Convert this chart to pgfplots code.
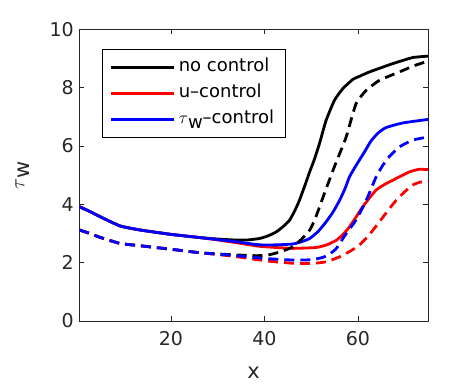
\documentclass[border=0pt]{standalone}
\usepackage{pgfplots}
\pgfplotsset{compat=1.18}
\usepackage{fontspec}
\setmainfont{DejaVu Sans}
\definecolor{axgray}{rgb}{0.15,0.15,0.15}

\begin{document}
\begin{tikzpicture}
  \begin{axis}[
    scale only axis,
    width=348.7bp, height=291.7bp,
    xmin=0.4, xmax=75, ymin=0, ymax=10,
    xtick={20,40,60}, ytick={0,2,4,6,8,10},
    tick align=inside,
    major tick length=5bp,
    axis line style={axgray, line width=0.6pt},
    every tick/.style={axgray, line width=0.6pt},
    tick label style={font=\fontsize{19bp}{22bp}\selectfont, text=axgray},
    xticklabel style={yshift=-7bp},
    yticklabel style={xshift=-2bp},
    /pgf/number format/assume math mode=true,
    xlabel={x},
    ylabel={$\tau$\raisebox{-0.45ex}{w}},
    xlabel style={at={(axis description cs:0.5,-0.1766)}, anchor=center},
    ylabel style={at={(axis description cs:-0.163,0.5)}, anchor=center},
    label style={font=\fontsize{21bp}{24bp}\selectfont, text=axgray},
    legend style={at={(0.0642,0.9314)}, anchor=north west, draw=black,
      line width=0.6pt, font=\fontsize{18bp}{21bp}\selectfont,
      inner xsep=8bp, inner ysep=5bp, row sep=0bp,
      nodes={text height=14bp, text depth=6bp, inner xsep=3bp, inner ysep=3bp}},
    legend cell align=left,
    legend image code/.code={\draw[#1, line width=2.8bp, solid] (0bp,0bp) -- (63bp,0bp);},
    every axis plot/.append style={line width=2.8bp, smooth, tension=0.3},
  ]
    % solid: no control
    \addplot[black] coordinates {
      (0.4,3.92) (2.7,3.75) (4.8,3.58) (9.1,3.26) (13.4,3.12) (20,2.97)
      (26.2,2.86) (30,2.81) (33.3,2.78) (36.5,2.78) (39,2.83) (40.8,2.92)
      (42.6,3.06) (44.1,3.25) (45.4,3.46) (46.5,3.78) (47.5,4.14) (48.6,4.62)
      (49.7,5.12) (50.6,5.50) (51.8,6.09) (53.2,6.88) (55.0,7.57) (56.8,7.97)
      (58.9,8.28) (60.5,8.40) (62.5,8.54) (67.4,8.82) (71.7,9.03) (75,9.08)};
    \addlegendentry{no control}
    % solid: u-control
    \addplot[red] coordinates {
      (0.4,3.92) (2.7,3.75) (4.8,3.58) (9.1,3.26) (13.4,3.12) (20,2.97)
      (26.2,2.86) (30,2.78) (33.3,2.70) (36.5,2.62) (39,2.56) (42.5,2.52)
      (46.1,2.49) (51.1,2.52) (53.5,2.62) (55.4,2.77) (56.9,2.98) (58.2,3.23)
      (59.6,3.56) (61.0,3.91) (62.5,4.22) (63.9,4.49) (65.7,4.68) (67.5,4.83)
      (71.0,5.11) (73.1,5.2) (75,5.19)};
    \addlegendentry{u--control}
    % solid: tau_w-control
    \addplot[blue] coordinates {
      (0.4,3.92) (2.7,3.75) (4.8,3.58) (9.1,3.26) (13.4,3.12) (20,2.97)
      (26.2,2.86) (30,2.79) (33.3,2.73) (36.5,2.66) (39,2.61) (42.5,2.61)
      (46.1,2.64) (48.0,2.72) (49.7,2.83) (51.5,3.07) (53.2,3.40) (54.7,3.74)
      (56.1,4.14) (57.2,4.52) (58.2,4.94) (59.3,5.25) (60.3,5.51) (61.5,5.82)
      (62.8,6.17) (64.3,6.44) (66.0,6.63) (69.6,6.79) (75,6.91)};
    \addlegendentry{$\tau$\raisebox{-0.45ex}{w}--control}
    % dashed: no control
    \addplot[black, dash pattern=on 10bp off 6bp, forget plot] coordinates {
      (0.4,3.12) (2.7,3.0) (4.8,2.87) (9.1,2.66) (13.4,2.58) (20,2.46)
      (26.2,2.34) (33.3,2.27) (38,2.24) (40.4,2.25) (42.5,2.33) (44.2,2.42)
      (45.8,2.52) (47.8,2.78) (49.7,3.12) (50.8,3.48) (51.8,3.91) (52.8,4.36)
      (53.9,4.83) (55.0,5.30) (56.1,5.74) (57.5,6.31) (59.6,7.45) (61.8,7.91)
      (64.6,8.25) (68.9,8.54) (72,8.75) (75,8.91)};
    % dashed: u-control
    \addplot[red, dash pattern=on 10bp off 6bp, forget plot] coordinates {
      (0.4,3.12) (2.7,3.0) (4.8,2.87) (9.1,2.66) (13.4,2.58) (20,2.46)
      (26.2,2.34) (33.3,2.22) (40.4,2.06) (46.1,1.98) (50.0,1.97) (53.2,2.03)
      (56.1,2.2) (58.2,2.38) (60.3,2.6) (62.5,2.97) (64.6,3.4) (66.4,3.78)
      (68.2,4.14) (70.0,4.43) (71.7,4.66) (73.3,4.76) (75,4.8)};
    % dashed: tau_w-control
    \addplot[blue, dash pattern=on 10bp off 6bp, forget plot] coordinates {
      (0.4,3.12) (2.7,3.0) (4.8,2.87) (9.1,2.66) (13.4,2.58) (20,2.46)
      (26.2,2.34) (33.3,2.25) (40.4,2.14) (46.1,2.09) (50.0,2.10) (52.5,2.18)
      (54.0,2.30) (55.4,2.49) (57.5,3.0) (59.6,3.46) (61.8,4.14) (63.9,4.94)
      (65.3,5.33) (66.7,5.63) (68.9,5.97) (71.7,6.2) (75,6.31)};
  \end{axis}
  \pgfresetboundingbox
  \path[use as bounding box] (-79.3bp,-63bp) rectangle ++(472bp,384bp);
\end{tikzpicture}
\end{document}
